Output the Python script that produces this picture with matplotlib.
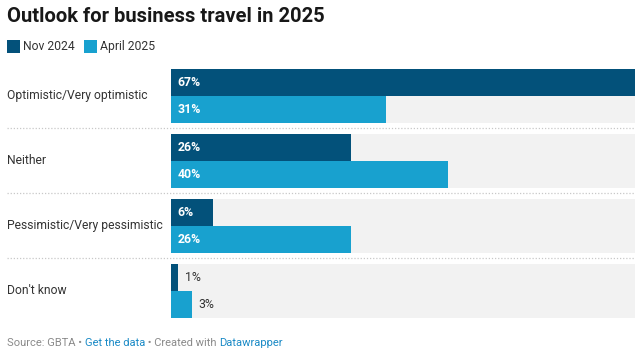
import matplotlib
matplotlib.use('Agg')
import matplotlib.pyplot as plt
from matplotlib.patches import Rectangle

plt.rcParams['font.family'] = ['Roboto', 'DejaVu Sans']

# Data
categories = ["Optimistic/Very optimistic", "Neither",
              "Pessimistic/Very pessimistic", "Don't know"]
series_names = ["Nov 2024", "April 2025"]
nov_2024 = [67, 26, 6, 1]
april_2025 = [31, 40, 26, 3]

colors = ["#03517a", "#18a1cf"]
bg_color = "#f2f2f2"

W, H = 643, 358
fig = plt.figure(figsize=(W / 100, H / 100), dpi=100)

# bar area in pixels: x 171..635, y 69..317
x0, x1 = 171, 635
y_top, y_bot = 69, 318
ax = fig.add_axes([x0 / W, 1 - y_bot / H, (x1 - x0) / W, (y_bot - y_top) / H])

pitch = 65
bar_h = 27
vmax = max(max(nov_2024), max(april_2025))
ax.set_xlim(0, vmax)
ax.set_ylim(y_bot - y_top, 0)
ax.axis('off')

for i, cat in enumerate(categories):
    top = i * pitch
    ax.add_patch(Rectangle((0, top), vmax, 2 * bar_h, color=bg_color, lw=0, zorder=0))
    for j, vals in enumerate([nov_2024, april_2025]):
        v = vals[i]
        yc = top + j * bar_h + bar_h / 2
        ax.barh(yc, v, height=bar_h, color=colors[j], lw=0, zorder=2)
        # label inside when bar is wide enough
        if v >= 5:
            ax.text(0.95, yc, f"{v}%", color="white", fontsize=8.8,
                    fontweight='bold', va='center', ha='left', zorder=3)
        else:
            ax.text(v + 1.0, yc, f"{v}%", color="#333333", fontsize=8.8,
                    va='center', ha='left', zorder=3)

# category labels and separators (figure coords)
for i, cat in enumerate(categories):
    yc = y_top + i * pitch + bar_h
    fig.text(7 / W, 1 - yc / H, cat, fontsize=8.75, color="#333333",
             va='center', ha='left')
    if i < len(categories) - 1:
        ys = y_top + i * pitch + 2 * bar_h + 5
        fig.add_artist(plt.Line2D([7 / W, x1 / W], [1 - ys / H, 1 - ys / H],
                                  color="#c8c8c8", lw=0.9, linestyle=(0, (1, 1.5))))

# title
fig.text(7 / W, 1 - 16 / H, "Outlook for business travel in 2025", fontsize=14.5,
         fontweight='bold', color="#181818", va='center', ha='left')

# legend
lx = 7
for name, c in zip(series_names, colors):
    fig.add_artist(Rectangle((lx / W, 1 - 53 / H), 13 / W, 13 / H, color=c,
                             transform=fig.transFigure, lw=0))
    t = fig.text((lx + 16) / W, 1 - 46.5 / H, name, fontsize=8.75, color="#333333",
                 va='center', ha='left')
    fig.canvas.draw()
    bb = t.get_window_extent()
    lx = bb.x1 + 9

# footer
parts = [("Source: GBTA • ", "#8a8a8a"), ("Get the data", "#1a8ac6"),
         (" • Created with ", "#8a8a8a"), ("Datawrapper", "#1a8ac6")]
fx = 7
for txt, c in parts:
    t = fig.text(fx / W, 1 - 343 / H, txt, fontsize=8, color=c, va='center', ha='left')
    fig.canvas.draw()
    fx = t.get_window_extent().x1

fig.savefig("out.png", dpi=100, facecolor="white")
